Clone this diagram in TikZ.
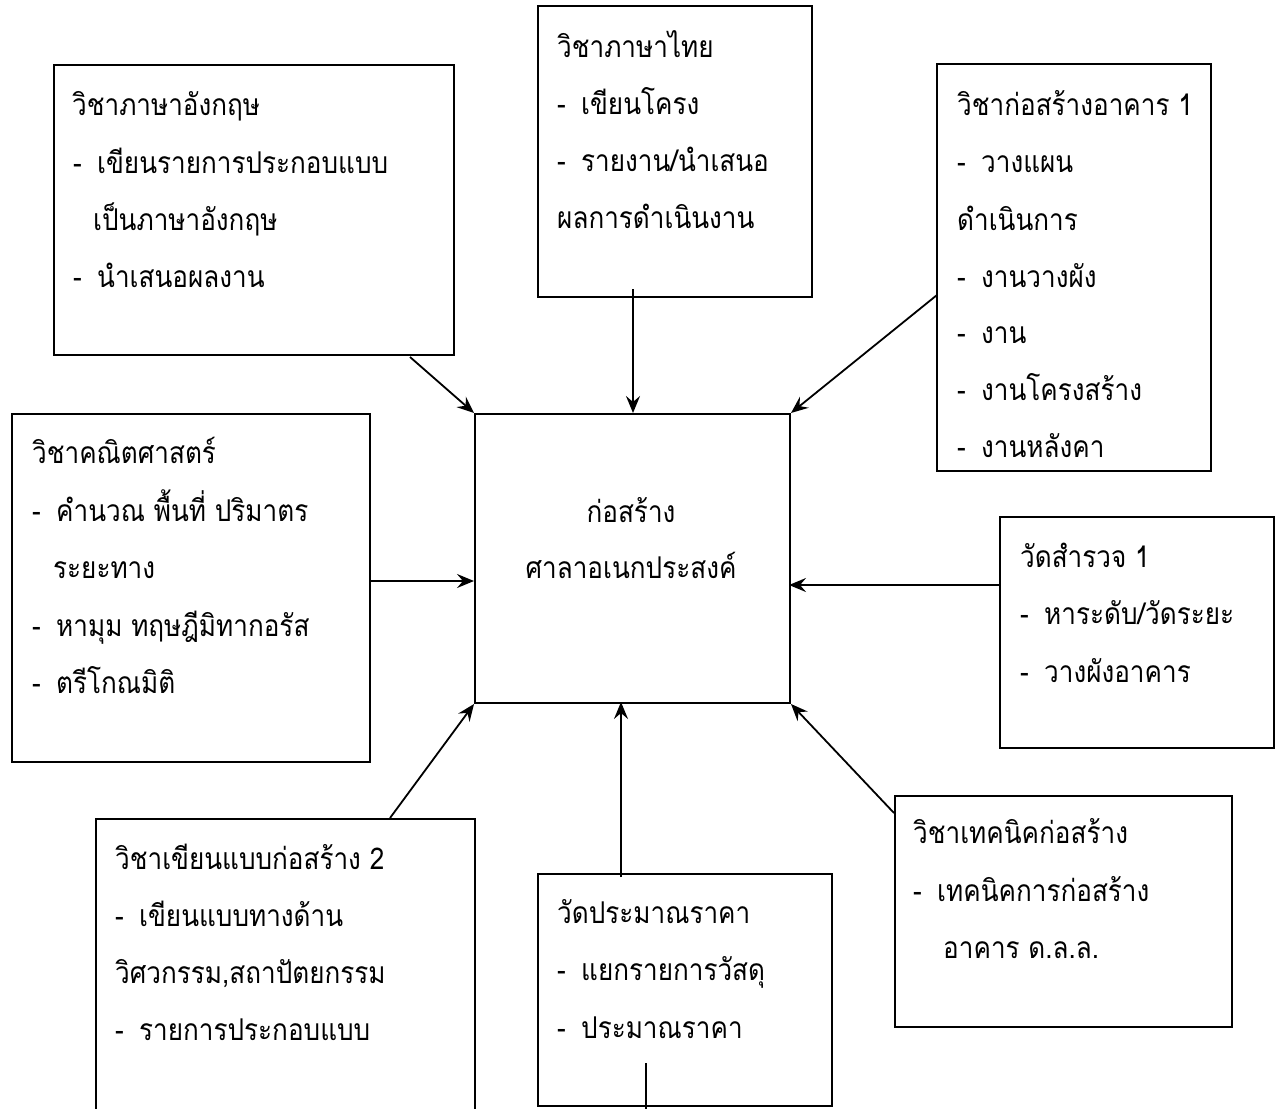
\documentclass[tikz,border=0pt]{standalone}
\usepackage{fontspec}
\setmainfont[Script=Thai,FakeStretch=0.87]{Loma}
\usetikzlibrary{arrows.meta}
\begin{document}
\begin{tikzpicture}[x=1pt,y=-1pt,
  box/.style={draw, line width=2pt, inner sep=0pt, anchor=north west},
  txt/.style={anchor=base west, inner sep=0pt, font=\fontsize{30}{34}\selectfont},
  ctxt/.style={anchor=base, inner sep=0pt, font=\fontsize{30}{34}\selectfont},
  arr/.style={line width=1.8pt, -{Stealth[length=17pt,width=14pt,inset=6pt]}},
  plain/.style={line width=1.8pt}]
\newcommand{\dsh}{\makebox[24pt][l]{-}}
\useasboundingbox (0,0) rectangle (1281,1108);
\clip (0,0) rectangle (1281,1108);
\fill[white] (0,0) rectangle (1281,1108);

% boxes
\node[box, minimum width=315pt, minimum height=289pt] (C) at (474,413) {};
\node[box, minimum width=400pt, minimum height=290pt] (E) at (53,64) {};
\node[box, minimum width=274pt, minimum height=291pt] (T) at (537,5) {};
\node[box, minimum width=274pt, minimum height=407pt] (K) at (936,63) {};
\node[box, minimum width=358pt, minimum height=348pt] (M) at (11,413) {};
\node[box, minimum width=274pt, minimum height=231pt] (S) at (999,516) {};
\node[box, minimum width=379pt, minimum height=330pt] (D) at (95,818) {};
\node[box, minimum width=294pt, minimum height=232pt] (P) at (537,873) {};
\node[box, minimum width=337pt, minimum height=231pt] (Q) at (894,795) {};

% centre text
\node[ctxt] (C1) at (631,522) {ก่อสร้าง};
\node[ctxt] (C2) at (631,578) {ศาลาอเนกประสงค์};

% English
\node[txt] (E1) at (72,115) {วิชาภาษาอังกฤษ};
\node[txt] (E2) at (73,173) {\dsh เขียนรายการประกอบแบบ};
\node[txt] (E3) at (93,230) {เป็นภาษาอังกฤษ};
\node[txt] (E4) at (73,287) {\dsh นำเสนอผลงาน};

% Thai
\node[txt] (T1) at (557,57) {วิชาภาษาไทย};
\node[txt] (T2) at (557,114) {\dsh เขียนโครง};
\node[txt] (T3) at (557,171) {\dsh รายงาน/นำเสนอ};
\node[txt] (T4) at (557,228) {ผลการดำเนินงาน};

% Construction 1
\node[txt] (K1) at (957,115) {วิชาก่อสร้างอาคาร 1};
\node[txt] (K2) at (957,172) {\dsh วางแผน};
\node[txt] (K3) at (957,230) {ดำเนินการ};
\node[txt] (K4) at (957,287) {\dsh งานวางผัง};
\node[txt] (K5) at (957,343) {\dsh งาน};
\node[txt] (K6) at (957,400) {\dsh งานโครงสร้าง};
\node[txt] (K7) at (957,457) {\dsh งานหลังคา};

% Math
\node[txt] (M1) at (32,463) {วิชาคณิตศาสตร์};
\node[txt] (M2) at (32,521) {\dsh คำนวณ พื้นที่ ปริมาตร};
\node[txt] (M3) at (53,578) {ระยะทาง};
\node[txt] (M4) at (32,636) {\dsh หามุม ทฤษฎีมิทากอรัส};
\node[txt] (M5) at (32,693) {\dsh ตรีโกณมิติ};

% Survey
\node[txt] (S1) at (1020,567) {วัดสำรวจ 1};
\node[txt] (S2) at (1020,624) {\dsh หาระดับ/วัดระยะ};
\node[txt] (S3) at (1020,682) {\dsh วางผังอาคาร};

% Drafting
\node[txt] (D1) at (115,869) {วิชาเขียนแบบก่อสร้าง 2};
\node[txt] (D2) at (115,926) {\dsh เขียนแบบทางด้าน};
\node[txt] (D3) at (115,983) {วิศวกรรม,สถาปัตยกรรม};
\node[txt] (D4) at (115,1040) {\dsh รายการประกอบแบบ};

% Price
\node[txt] (P1) at (557,923) {วัดประมาณราคา};
\node[txt] (P2) at (557,980) {\dsh แยกรายการวัสดุ};
\node[txt] (P3) at (557,1038) {\dsh ประมาณราคา};

% Technique
\node[txt] (Q1) at (913,843) {วิชาเทคนิคก่อสร้าง};
\node[txt] (Q2) at (913,901) {\dsh เทคนิคการก่อสร้าง};
\node[txt] (Q3) at (943,958) {อาคาร ด.ล.ล.};

% connector end points
\coordinate (eS) at (410,357);
\coordinate (tS) at (633,289);
\coordinate (tE) at (633,413);
\coordinate (kS) at (937,295);
\coordinate (mS) at (369,581);
\coordinate (mE) at (474,581);
\coordinate (sS) at (999,585);
\coordinate (sE) at (789,585);
\coordinate (dS) at (390,818);
\coordinate (pS) at (621,877);
\coordinate (pE) at (621,702);
\coordinate (qS) at (894,813);
\coordinate (xS) at (646,1063);
\coordinate (xE) at (646,1110);

\draw[arr] (eS) -- (C.north west);
\draw[arr] (tS) -- (tE);
\draw[arr] (kS) -- (C.north east);
\draw[arr] (mS) -- (mE);
\draw[arr] (sS) -- (sE);
\draw[arr] (dS) -- (C.south west);
\draw[arr] (pS) -- (pE);
\draw[arr] (qS) -- (C.south east);
\draw[plain] (xS) -- (xE);
\end{tikzpicture}
\end{document}
